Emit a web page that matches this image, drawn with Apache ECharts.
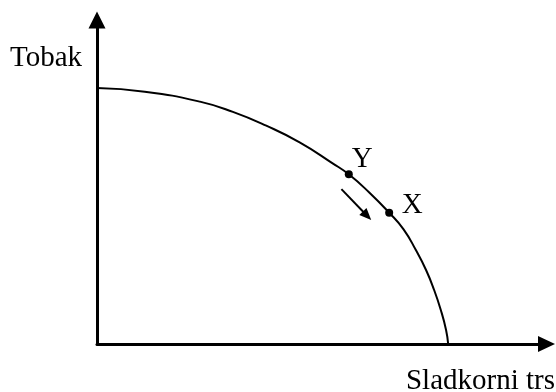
<!DOCTYPE html>
<html lang="sl">
<head>
  <meta charset="UTF-8">
  <title>Krivulja proizvodnih možnosti</title>
  <style>
    html, body { margin: 0; padding: 0; background: #fff; }
  </style>
</head>
<body>
<div id="main" style="width: 556px;height:392px;"></div>
<script src="https://cdn.jsdelivr.net/npm/echarts@6/dist/echarts.min.js"></script>
<script type="text/javascript">
  // krivulja (sladkorni trs -> x, tobak -> y)
  const curveX = [0, 13.6, 29.3, 38.7, 48.2, 57.7, 67.1, 71.7, 77.6, 83.2, 87.3, 90.8, 93.7, 96.0, 97.9, 99.4, 100]
  const curveY = [100, 98.6, 94.7, 90.7, 85.3, 78.8, 70.6, 66.3, 59.1, 51.3, 44.8, 36.7, 28.9, 21.1, 13.3, 5.5, 0]

  // točki na krivulji
  const pointNames = ['Y', 'X']
  const pointX = [71.7, 83.2]
  const pointY = [66.3, 51.3]

  // puščica premika
  const arrowFrom = [69.6, 60.5]
  const arrowTo = [76.9, 50.1]

  const axisNames = ['Sladkorni trs', 'Tobak']

  const font = 'Liberation Serif'
  const Chart = echarts.init(document.getElementById('main'))

  const option = {
    animation: false,
    grid: {left: 97, right: 9.5, top: 20, bottom: 48},
    xAxis: {
      type: 'value',
      min: 0,
      max: 128,
      axisLine: {
        show: true,
        lineStyle: {color: '#000', width: 3},
        symbol: ['none', 'triangle'],
        symbolSize: [16, 17]
      },
      axisTick: {show: false},
      axisLabel: {show: false},
      splitLine: {show: false}
    },
    yAxis: {
      type: 'value',
      min: 0,
      max: 126.6,
      axisLine: {
        show: true,
        lineStyle: {color: '#000', width: 3},
        symbol: ['none', 'triangle'],
        symbolSize: [17, 17]
      },
      axisTick: {show: false},
      axisLabel: {show: false},
      splitLine: {show: false}
    },
    graphic: [
      {
        type: 'text',
        x: 10,
        y: 58,
        style: {text: axisNames[1], font: '29px ' + font, fill: '#000', align: 'left', verticalAlign: 'middle'}
      },
      {
        type: 'text',
        x: 555,
        y: 381,
        style: {text: axisNames[0], font: '29px ' + font, fill: '#000', align: 'right', verticalAlign: 'middle'}
      }
    ],
    series: [
      {
        type: 'line',
        data: curveX.map((x, i) => [x, curveY[i]]),
        smooth: 0.5,
        showSymbol: false,
        lineStyle: {color: '#000', width: 2},
        silent: true
      },
      {
        type: 'scatter',
        data: pointNames.map((n, i) => ({
          name: n,
          value: [pointX[i], pointY[i]],
          label: {position: i === 0 ? [17.5, -11] : [27, -3]}
        })),
        symbolSize: 8,
        itemStyle: {color: '#000', opacity: 1},
        label: {
          show: true,
          formatter: (p) => p.name,
          fontFamily: font,
          fontSize: 29,
          color: '#000',
          opacity: 1,
          textBorderWidth: 0,
          align: 'center',
          verticalAlign: 'middle'
        },
        markLine: {
          silent: true,
          symbol: ['none', 'triangle'],
          symbolSize: [10, 12],
          label: {show: false},
          lineStyle: {color: '#000', width: 2, type: 'solid'},
          data: [[{coord: arrowFrom}, {coord: arrowTo}]]
        }
      }
    ]
  }

  Chart.setOption(option)
</script>
</body>
</html>
